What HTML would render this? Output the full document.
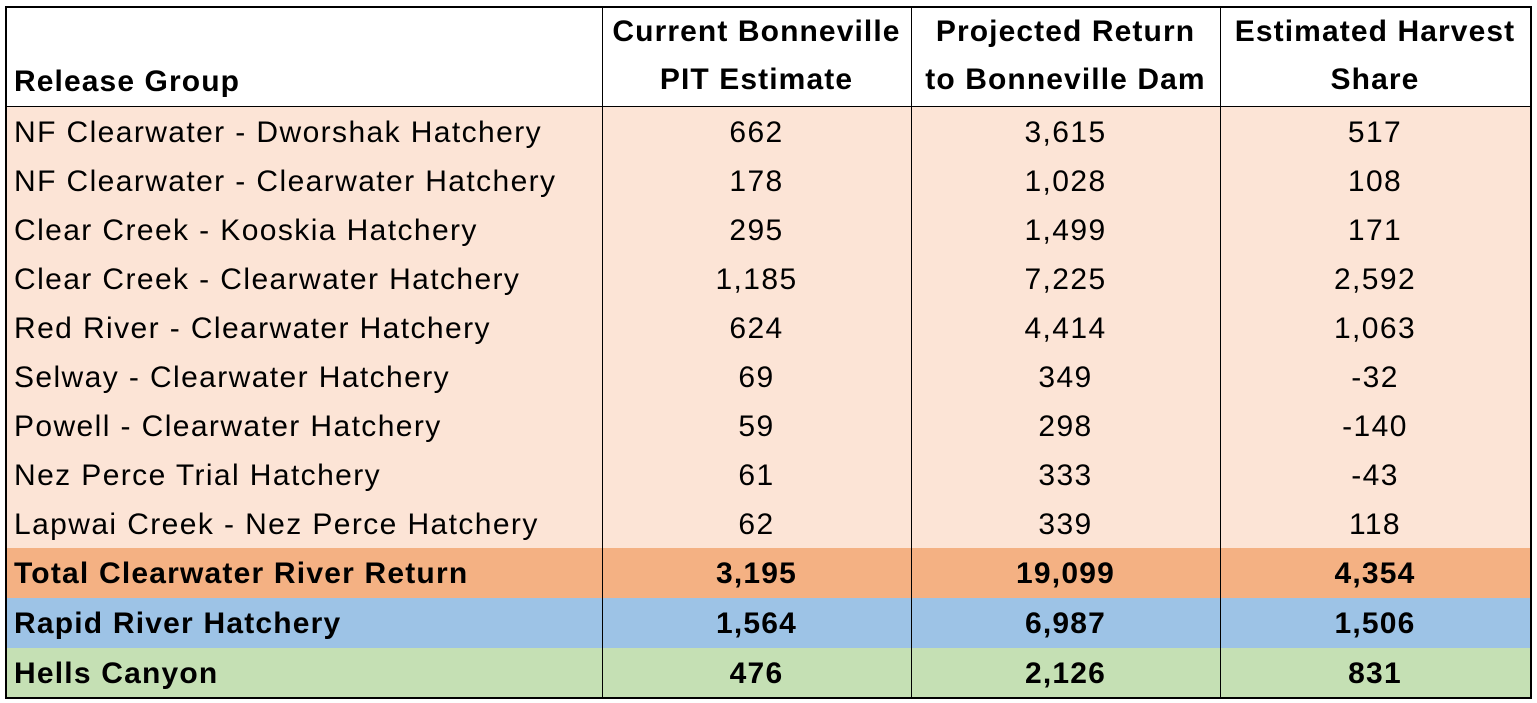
<!DOCTYPE html>
<html><head><meta charset="utf-8"><style>
body{margin:0;width:1537px;height:703px;background:#fff;font-family:"Liberation Sans",Arial,sans-serif;position:relative;overflow:hidden}
.r{position:absolute;left:7px;width:1523px;height:49.2px}
.c{position:absolute;top:1px;height:100%;line-height:49px;font-size:30px;letter-spacing:1.4px;color:#000;white-space:nowrap}
.c0{left:7px}
.c1{left:595px;width:309px;text-align:center}
.c2{left:904px;width:309px;text-align:center}
.c3{left:1213px;width:310px;text-align:center}
.b .c{font-weight:bold;letter-spacing:1.2px}
.v{position:absolute;top:7px;height:690px;width:1px;background:#000}
.h{position:absolute;font-weight:bold;font-size:30px;letter-spacing:1.1px;text-align:center;line-height:48px;white-space:nowrap}
</style></head><body>
<div style="position:absolute;left:7px;top:106px;width:1523px;height:442px;background:#FCE4D6"></div>
<div style="position:absolute;left:7px;top:548px;width:1523px;height:50px;background:#F4B183"></div>
<div style="position:absolute;left:7px;top:598px;width:1523px;height:50px;background:#9DC3E6"></div>
<div style="position:absolute;left:7px;top:648px;width:1523px;height:49px;background:#C5E0B4"></div>

<div class="h" style="left:14px;top:58px;text-align:left">Release Group</div>
<div class="h" style="left:602px;width:309px;top:8px">Current Bonneville<br>PIT Estimate</div>
<div class="h" style="left:911px;width:309px;top:8px">Projected Return<br>to Bonneville Dam</div>
<div class="h" style="left:1220px;width:310px;top:8px">Estimated Harvest<br>Share</div>

<div class="r" style="top:107px"><div class="c c0">NF Clearwater - Dworshak Hatchery</div><div class="c c1">662</div><div class="c c2">3,615</div><div class="c c3">517</div></div>
<div class="r" style="top:156px"><div class="c c0">NF Clearwater - Clearwater Hatchery</div><div class="c c1">178</div><div class="c c2">1,028</div><div class="c c3">108</div></div>
<div class="r" style="top:205px"><div class="c c0">Clear Creek - Kooskia Hatchery</div><div class="c c1">295</div><div class="c c2">1,499</div><div class="c c3">171</div></div>
<div class="r" style="top:254px"><div class="c c0">Clear Creek - Clearwater Hatchery</div><div class="c c1">1,185</div><div class="c c2">7,225</div><div class="c c3">2,592</div></div>
<div class="r" style="top:303px"><div class="c c0">Red River - Clearwater Hatchery</div><div class="c c1">624</div><div class="c c2">4,414</div><div class="c c3">1,063</div></div>
<div class="r" style="top:352px"><div class="c c0">Selway - Clearwater Hatchery</div><div class="c c1">69</div><div class="c c2">349</div><div class="c c3">-32</div></div>
<div class="r" style="top:401px"><div class="c c0">Powell - Clearwater Hatchery</div><div class="c c1">59</div><div class="c c2">298</div><div class="c c3">-140</div></div>
<div class="r" style="top:450px"><div class="c c0">Nez Perce Trial Hatchery</div><div class="c c1">61</div><div class="c c2">333</div><div class="c c3">-43</div></div>
<div class="r" style="top:499px"><div class="c c0">Lapwai Creek - Nez Perce Hatchery</div><div class="c c1">62</div><div class="c c2">339</div><div class="c c3">118</div></div>
<div class="r b" style="top:548px"><div class="c c0">Total Clearwater River Return</div><div class="c c1">3,195</div><div class="c c2">19,099</div><div class="c c3">4,354</div></div>
<div class="r b" style="top:598px"><div class="c c0">Rapid River Hatchery</div><div class="c c1">1,564</div><div class="c c2">6,987</div><div class="c c3">1,506</div></div>
<div class="r b" style="top:648px"><div class="c c0">Hells Canyon</div><div class="c c1">476</div><div class="c c2">2,126</div><div class="c c3">831</div></div>

<div class="v" style="left:602px"></div>
<div class="v" style="left:911px"></div>
<div class="v" style="left:1220px"></div>
<div style="position:absolute;left:7px;top:106px;width:1523px;height:1px;background:#000"></div>
<div style="position:absolute;left:5px;top:6px;width:1523px;height:689px;border:2px solid #000"></div>
</body></html>
